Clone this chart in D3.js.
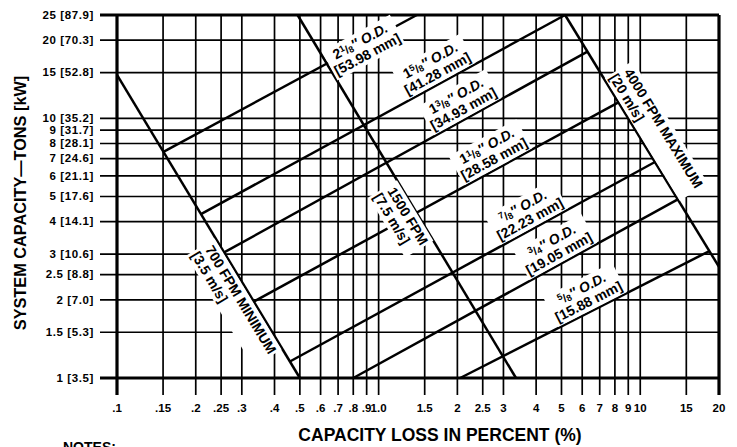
<!DOCTYPE html>
<html>
<head>
<meta charset="utf-8">
<script src="https://cdn.jsdelivr.net/npm/d3@7"></script>
<style>
  body { margin: 0; background: #fff; }
  svg { display: block; font-family: "Liberation Sans", Arial, sans-serif; font-weight: bold; }
</style>
</head>
<body>
<div id="chart"></div>
<script>
// axis ticks
const xTicks = [0.1, 0.15, 0.2, 0.25, 0.3, 0.4, 0.5, 0.6, 0.7, 0.8, 0.9, 1, 1.5, 2, 2.5, 3, 4, 5, 6, 7, 8, 9, 10, 15, 20];
const xTickLabels = [".1", ".15", ".2", ".25", ".3", ".4", ".5", ".6", ".7", ".8", ".9", "1.0", "1.5", "2", "2.5", "3", "4", "5", "6", "7", "8", "9", "10", "15", "20"];
const yTicks = [1, 1.5, 2, 2.5, 3, 4, 5, 6, 7, 8, 9, 10, 15, 20, 25];
const yTickLabels = ["1 [3.5]", "1.5 [5.3]", "2 [7.0]", "2.5 [8.8]", "3 [10.6]", "4 [14.1]", "5 [17.6]", "6 [21.1]", "7 [24.6]", "8 [28.1]", "9 [31.7]", "10 [35.2]", "15 [52.8]", "20 [70.3]", "25 [87.9]"];

// velocity limit lines, two points each: [loss %, tons]
const velocityNames = ["700 FPM MINIMUM", "1500 FPM", "4000 FPM MAXIMUM"];
const velocityMetric = ["[3.5 m/s]", "[7.5 m/s]", "[20 m/s]"];
const velocityPoints = [
    [[0.1, 14.7], [0.5, 1]],
    [[0.49, 25], [3.35, 1]],
    [[5.16, 25], [20, 2.68]]
];

// pipe size lines: O.D. as [whole, numerator, denominator], metric size, two points [loss %, tons]
const pipeInches = [["2", "1", "8"], ["1", "5", "8"], ["1", "3", "8"], ["1", "1", "8"], ["", "7", "8"], ["", "3", "4"], ["", "5", "8"]];
const pipeMetric = ["[53.98 mm]", "[41.28 mm]", "[34.93 mm]", "[28.58 mm]", "[22.23 mm]", "[19.05 mm]", "[15.88 mm]"];
const pipePoints = [
    [[0.150, 7.42], [1.40, 25]],
    [[0.213, 4.32], [5.16, 25]],
    [[0.259, 3.06], [6.43, 18.3]],
    [[0.343, 2.0], [8.15, 11.45]],
    [[0.467, 1.17], [11.2, 6.73]],
    [[0.80, 1], [13.8, 4.85]],
    [[2.05, 1], [18.0, 3.05]]
];

const width = 737, height = 447;

const svg = d3.select("#chart").append("svg")
    .attr("width", width)
    .attr("height", height);

const xScale = d3.scaleLog().domain([0.1, 20]).range([117, 719]);
const yScale = d3.scaleLog().domain([1, 25]).range([378, 15]);

const x0 = xScale(0.1), x1 = xScale(20), yTop = yScale(25), yBot = yScale(1);

// grid
const grid = svg.append("g");
grid.selectAll("line.v")
    .data(xTicks)
    .enter().append("line")
    .attr("x1", d => xScale(d)).attr("x2", d => xScale(d))
    .attr("y1", yTop).attr("y2", yBot + 17)
    .attr("stroke", "#000")
    .attr("stroke-width", (d, i) => (i === 0 || i === xTicks.length - 1) ? 3.2 : 1.7);
grid.selectAll("line.h")
    .data(yTicks)
    .enter().append("line")
    .attr("x1", x0 - 17).attr("x2", x1)
    .attr("y1", d => yScale(d)).attr("y2", d => yScale(d))
    .attr("stroke", "#000")
    .attr("stroke-width", (d, i) => (i === 0 || i === yTicks.length - 1) ? 3.2 : 1.7);

// tick labels
svg.append("g").selectAll("text")
    .data(xTicks)
    .enter().append("text")
    .attr("x", d => xScale(d))
    .attr("y", 412)
    .attr("text-anchor", "middle")
    .style("font-size", "11.5px")
    .text((d, i) => xTickLabels[i]);
svg.append("g").selectAll("text")
    .data(yTicks)
    .enter().append("text")
    .attr("x", 94)
    .attr("y", d => yScale(d))
    .attr("dy", "0.32em")
    .attr("text-anchor", "end")
    .style("font-size", "11.5px")
    .style("letter-spacing", "0.6px")
    .text((d, i) => yTickLabels[i]);

// axis titles
svg.append("text")
    .attr("transform", "translate(26,203) rotate(-90)")
    .attr("text-anchor", "middle")
    .style("font-size", "16.3px")
    .text("SYSTEM CAPACITY\u2014TONS [kW]");
svg.append("text")
    .attr("x", 440).attr("y", 441)
    .attr("text-anchor", "middle")
    .style("font-size", "17.5px")
    .text("CAPACITY LOSS IN PERCENT (%)");
svg.append("text")
    .attr("x", 63).attr("y", 452)
    .style("font-size", "14px")
    .text("NOTES:");

function toScreen(p) { return [xScale(p[0]), yScale(p[1])]; }
function cross(u, v) { return u[0] * v[1] - u[1] * v[0]; }

// clip a straight line to the chart box and between the min / max velocity lines
function clipPipe(pts) {
    const p0 = toScreen(pts[0]), p1 = toScreen(pts[1]);
    const d = [p1[0] - p0[0], p1[1] - p0[1]];
    let t0 = -Infinity, t1 = Infinity;
    function keep(g0, g1) {
        if (Math.abs(g1) < 1e-9) { if (g0 < 0) t0 = Infinity; return; }
        const t = -g0 / g1;
        if (g1 > 0) t0 = Math.max(t0, t); else t1 = Math.min(t1, t);
    }
    keep(p0[0] - x0, d[0]);
    keep(x1 - p0[0], -d[0]);
    keep(p0[1] - yTop, d[1]);
    keep(yBot - p0[1], -d[1]);
    [[velocityPoints[0], [x1, yBot]], [velocityPoints[2], [x0, yBot]]].forEach(([vp, ref]) => {
        const a = toScreen(vp[0]), b = toScreen(vp[1]);
        const ab = [b[0] - a[0], b[1] - a[1]];
        const s = Math.sign(cross(ab, [ref[0] - a[0], ref[1] - a[1]]));
        keep(s * cross(ab, [p0[0] - a[0], p0[1] - a[1]]), s * cross(ab, d));
    });
    return [[p0[0] + d[0] * t0, p0[1] + d[1] * t0], [p0[0] + d[0] * t1, p0[1] + d[1] * t1]];
}

const lineLayer = svg.append("g");
const labelLayer = svg.append("g");

lineLayer.selectAll("line.vel")
    .data(velocityPoints)
    .enter().append("line")
    .attr("x1", d => xScale(d[0][0])).attr("y1", d => yScale(d[0][1]))
    .attr("x2", d => xScale(d[1][0])).attr("y2", d => yScale(d[1][1]))
    .attr("stroke", "#000")
    .attr("stroke-width", 2.5);

lineLayer.selectAll("line.pipe")
    .data(pipePoints.map(clipPipe))
    .enter().append("line")
    .attr("x1", d => d[0][0]).attr("y1", d => d[0][1])
    .attr("x2", d => d[1][0]).attr("y2", d => d[1][1])
    .attr("stroke", "#000")
    .attr("stroke-width", 2.5);

// label along a line: anchor at a loss %, rows drawn in the rotated frame on a white box
function placeLabel(pts, at, rows) {
    const a = toScreen(pts[0]), b = toScreen(pts[1]);
    const t = (Math.log(at) - Math.log(pts[0][0])) / (Math.log(pts[1][0]) - Math.log(pts[0][0]));
    const px = a[0] + (b[0] - a[0]) * t, py = a[1] + (b[1] - a[1]) * t;
    const angle = Math.atan2(b[1] - a[1], b[0] - a[0]) * 180 / Math.PI;
    const g = labelLayer.append("g")
        .attr("transform", `translate(${px},${py}) rotate(${angle})`);
    const box = g.append("rect").attr("fill", "#fff");
    rows.forEach(r => {
        const txt = g.append("text")
            .attr("x", r.x).attr("y", r.y)
            .attr("text-anchor", r.anchor || "middle")
            .style("font-size", "14px");
        if (r.build) r.build(txt); else txt.text(r.text);
    });
    const bb = g.node().getBBox();
    box.attr("x", bb.x - 2).attr("y", bb.y - 1)
        .attr("width", bb.width + 4).attr("height", bb.height + 2);
}

function inchText(parts) {
    return function (txt) {
        if (parts[0]) txt.append("tspan").text(parts[0]);
        txt.append("tspan").attr("dy", -4).style("font-size", "9px").text(parts[1]);
        txt.append("tspan").attr("dy", 4).style("font-size", "11px").text("/");
        txt.append("tspan").attr("dy", 1).style("font-size", "9px").text(parts[2]);
        txt.append("tspan").attr("dy", -1).style("font-style", "italic").text("\u2033 O.D.");
    };
}

const velocityLabelAt = [0.321, 1.386, 7.43];
const velocityRows = [
    [{ x: -62, y: 15, anchor: "start" }, { x: -64, y: 30, anchor: "start" }],
    [{ x: 0, y: 14 }, { x: -6, y: 29 }],
    [{ x: 0, y: -20, anchor: "start" }, { x: -3, y: -5, anchor: "start" }]
];
velocityPoints.forEach((pts, i) => {
    placeLabel(pts, velocityLabelAt[i], [
        Object.assign({ text: velocityNames[i] }, velocityRows[i][0]),
        Object.assign({ text: velocityMetric[i] }, velocityRows[i][1])
    ]);
});

const pipeLabelAt = [0.864, 1.75, 2.2, 2.88, 3.95, 5.1, 6.6];
pipePoints.forEach((pts, i) => {
    const straddle = i === 0;
    placeLabel(pts, pipeLabelAt[i], [
        { build: inchText(pipeInches[i]), x: 0, y: straddle ? 1 : -20 },
        { text: pipeMetric[i], x: 0, y: straddle ? 16 : -5 }
    ]);
});
</script>
</body>
</html>
